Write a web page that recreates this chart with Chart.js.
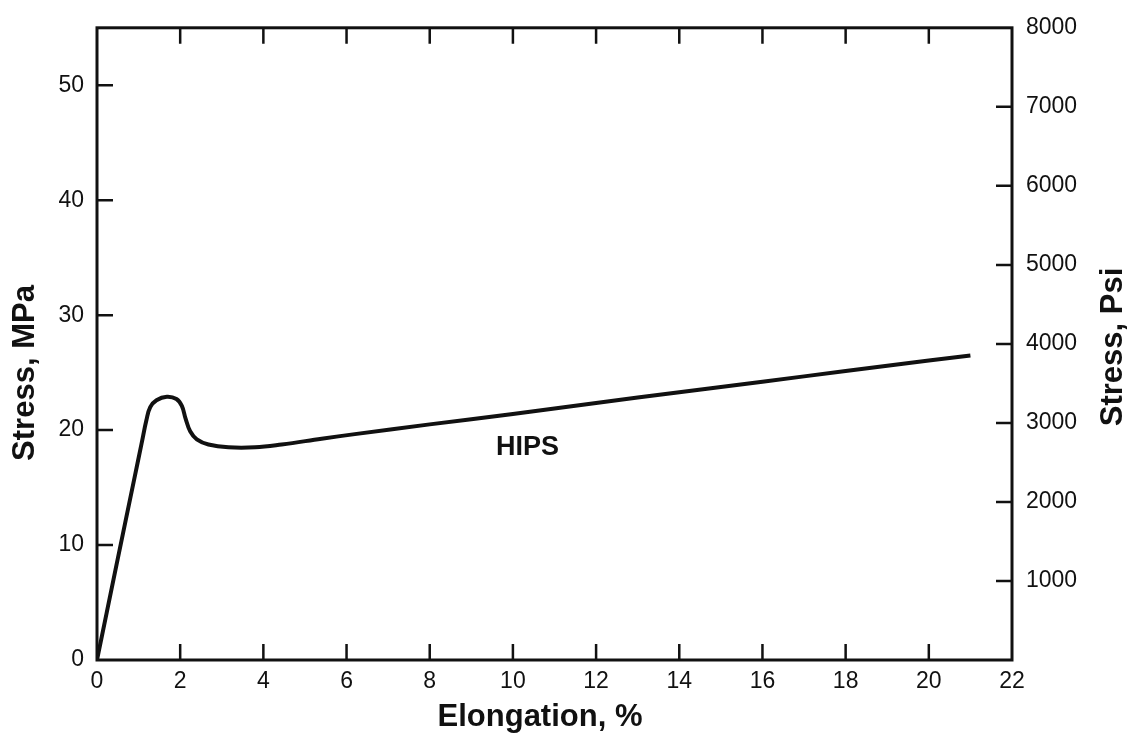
<!DOCTYPE html>
<html>
<head>
<meta charset="utf-8">
<title>HIPS stress-strain</title>
<script src="https://cdn.jsdelivr.net/npm/chart.js@4/dist/chart.umd.min.js"></script>
<style>
    html, body { margin: 0; padding: 0; background: #fff; }
    #wrap { width: 1131px; height: 736px; }
</style>
</head>
<body>
<div id="wrap"><canvas id="chart"></canvas></div>
<script>
"use strict";

/**----------------------------------------------------------------------
 * [Data: elongation (%) and stress (MPa)]
 *--------------------------------------------------------------*/
const elongation = [0, 0.47, 0.91, 1.07, 1.19, 1.28, 1.43, 1.68, 1.91, 2.04, 2.13, 2.24, 2.40, 2.68, 3.16, 3.80, 4.44, 5.40, 6.20, 8, 10, 12, 14, 16, 18, 20, 21];
const stress     = [0, 8.3, 16.0, 18.8, 20.9, 22.0, 22.6, 22.9, 22.7, 22.1, 21.0, 19.9, 19.2, 18.75, 18.5, 18.5, 18.75, 19.25, 19.65, 20.5, 21.4, 22.35, 23.3, 24.2, 25.15, 26.05, 26.5];

/**----------------------------------------------------------------------
 * [Tick values]
 *--------------------------------------------------------------*/
const xTicks   = [0, 2, 4, 6, 8, 10, 12, 14, 16, 18, 20, 22];
const mpaTicks = [0, 10, 20, 30, 40, 50];
const psiTicks = [1000, 2000, 3000, 4000, 5000, 6000, 7000, 8000];

const curveLabel = 'HIPS';

const fontFamily = '"Liberation Sans", Arial, Helvetica, sans-serif';
const ink = '#111';

/**----------------------------------------------------------------------
 * [Frame, inward tick marks, axis titles and the curve label]
 *--------------------------------------------------------------*/
const framePlugin = {
    id: 'frame',
    afterDraw(chart) {
        const ctx = chart.ctx;
        const a = chart.chartArea;
        const x = chart.scales.x, y = chart.scales.y, y2 = chart.scales.y2;
        const len = 16;

        ctx.save();
        ctx.strokeStyle = ink;
        ctx.lineWidth = 3;
        ctx.strokeRect(a.left, a.top, a.right - a.left, a.bottom - a.top);

        ctx.lineWidth = 2.5;
        ctx.beginPath();
        xTicks.slice(1, -1).forEach(function(v) {
            const px = x.getPixelForValue(v);
            ctx.moveTo(px, a.bottom); ctx.lineTo(px, a.bottom - len);
            ctx.moveTo(px, a.top);    ctx.lineTo(px, a.top + len);
        });
        mpaTicks.slice(1).forEach(function(v) {
            const py = y.getPixelForValue(v);
            ctx.moveTo(a.left, py); ctx.lineTo(a.left + len, py);
        });
        psiTicks.slice(0, -1).forEach(function(v) {
            const py = y2.getPixelForValue(v);
            ctx.moveTo(a.right, py); ctx.lineTo(a.right - len, py);
        });
        ctx.stroke();

        // axis titles
        ctx.fillStyle = ink;
        ctx.textAlign = 'center';
        ctx.textBaseline = 'middle';
        ctx.font = 'bold 31px ' + fontFamily;
        ctx.fillText('Elongation, %', 540, 717);

        ctx.save();
        ctx.translate(25, 373);
        ctx.rotate(-Math.PI / 2);
        ctx.fillText('Stress, MPa', 0, 0);
        ctx.restore();

        ctx.save();
        ctx.translate(1113, 347);
        ctx.rotate(-Math.PI / 2);
        ctx.fillText('Stress, Psi', 0, 0);
        ctx.restore();

        // curve label
        ctx.font = 'bold 27px ' + fontFamily;
        ctx.fillText(curveLabel, x.getPixelForValue(10.35), y.getPixelForValue(18.5));
        ctx.restore();
    }
};

/**----------------------------------------------------------------------
 * [Shared tick style]
 *--------------------------------------------------------------*/
const tickFont = { family: fontFamily, size: 23 };
const plainLabel = function(value) { return String(value); };

new Chart(document.getElementById('chart').getContext('2d'), {
    type: 'scatter',
    data: {
        datasets: [{
            label: curveLabel,
            data: elongation.map(function(v, i) { return { x: v, y: stress[i] }; }),
            showLine: true,
            borderColor: ink,
            borderWidth: 4,
            pointRadius: 0,
            tension: 0.4,
            yAxisID: 'y'
        }]
    },
    options: {
        responsive: true,
        maintainAspectRatio: false,
        animation: false,
        layout: { padding: { top: 24, left: 0, right: 0, bottom: 0 } },
        plugins: {
            legend: { display: false },
            tooltip: { enabled: false }
        },
        scales: {
            x: {
                type: 'linear',
                min: 0,
                max: 22,
                afterBuildTicks: function(scale) {
                    scale.ticks = xTicks.map(function(v) { return { value: v }; });
                },
                afterFit: function(scale) { scale.height = 76; },
                ticks: { font: tickFont, color: ink, padding: 8, maxRotation: 0, callback: plainLabel },
                grid: { display: false, drawTicks: false },
                border: { display: false }
            },
            y: {
                position: 'left',
                min: 0,
                max: 55,
                afterBuildTicks: function(scale) {
                    scale.ticks = mpaTicks.map(function(v) { return { value: v }; });
                },
                afterFit: function(scale) { scale.width = 97; },
                ticks: { font: tickFont, color: ink, padding: 13, callback: plainLabel },
                grid: { display: false, drawTicks: false },
                border: { display: false }
            },
            y2: {
                display: true,
                position: 'right',
                min: 0,
                max: 8000,
                afterBuildTicks: function(scale) {
                    scale.ticks = psiTicks.map(function(v) { return { value: v }; });
                },
                afterFit: function(scale) { scale.width = 119; },
                ticks: { font: tickFont, color: ink, padding: 14, callback: plainLabel },
                grid: { display: false, drawTicks: false },
                border: { display: false }
            }
        }
    },
    plugins: [framePlugin]
});
</script>
</body>
</html>
